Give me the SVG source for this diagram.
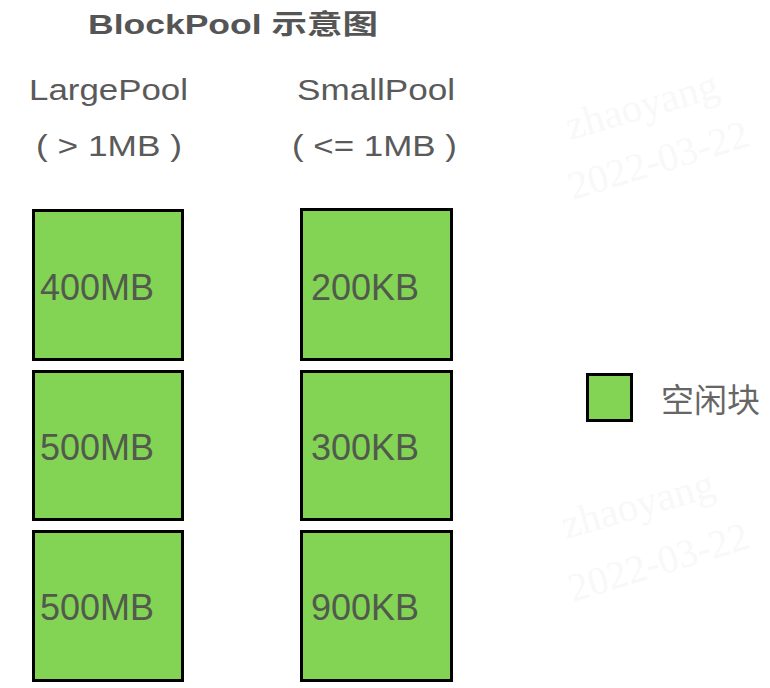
<svg xmlns="http://www.w3.org/2000/svg" width="770" height="688" viewBox="0 0 770 688">
<style>
.blk{fill:#83d454;stroke:#000;stroke-width:3}
.lbl{font-family:"Liberation Sans",Arial,sans-serif;font-size:36px;fill:#515a4c}
.hdr{font-family:"Liberation Sans",Arial,"Noto Sans CJK SC",sans-serif;font-size:30px;fill:#5a5a5a}
.ttl{font-family:"Liberation Sans",Arial,"Noto Sans CJK SC",sans-serif;font-size:27px;font-weight:bold;fill:#555}
.leg{font-family:"Noto Sans CJK SC","Noto Sans",sans-serif;font-size:33px;fill:#666}
.wm{font-family:"Liberation Serif","Times New Roman",serif;fill:#000;opacity:0.025}
</style>
<rect width="770" height="688" fill="#fff"/>
<g id="watermarks">
<text class="wm" font-size="41" transform="translate(570,140) rotate(-16)">zhaoyang</text>
<text class="wm" font-size="40" transform="translate(573,200) rotate(-17)">2022-03-22</text>
<text class="wm" font-size="41" transform="translate(566,539) rotate(-16)">zhaoyang</text>
<text class="wm" font-size="40" transform="translate(573,602) rotate(-17)">2022-03-22</text>
</g>
<g id="title">
<text class="ttl" x="88" y="34" textLength="290" lengthAdjust="spacingAndGlyphs">BlockPool 示意图</text>
</g>
<g id="large-header">
<text class="hdr" x="29" y="100" textLength="159" lengthAdjust="spacingAndGlyphs">LargePool</text>
<text class="hdr" x="36" y="156" textLength="146" lengthAdjust="spacingAndGlyphs">( &gt; 1MB )</text>
</g>
<g id="small-header">
<text class="hdr" x="297" y="100" textLength="158" lengthAdjust="spacingAndGlyphs">SmallPool</text>
<text class="hdr" x="292" y="156" textLength="165" lengthAdjust="spacingAndGlyphs">( &lt;= 1MB )</text>
</g>
<g id="large-1"><rect class="blk" x="33.5" y="210.5" width="149" height="149"/><text class="lbl" x="40" y="300">400MB</text></g>
<g id="large-2"><rect class="blk" x="33.5" y="371.5" width="149" height="148"/><text class="lbl" x="40" y="460">500MB</text></g>
<g id="large-3"><rect class="blk" x="33.5" y="531.5" width="149" height="149"/><text class="lbl" x="40" y="620">500MB</text></g>
<g id="small-1"><rect class="blk" x="301.5" y="209.5" width="150" height="150"/><text class="lbl" x="311" y="300">200KB</text></g>
<g id="small-2"><rect class="blk" x="301.5" y="371.5" width="150" height="148"/><text class="lbl" x="311" y="460">300KB</text></g>
<g id="small-3"><rect class="blk" x="301.5" y="531.5" width="150" height="149"/><text class="lbl" x="311" y="620">900KB</text></g>
<g id="legend">
<rect class="blk" x="587.5" y="374.5" width="44" height="46"/>
<text class="leg" x="661" y="412">空闲块</text>
</g>
<g id="connectors"/>
</svg>
